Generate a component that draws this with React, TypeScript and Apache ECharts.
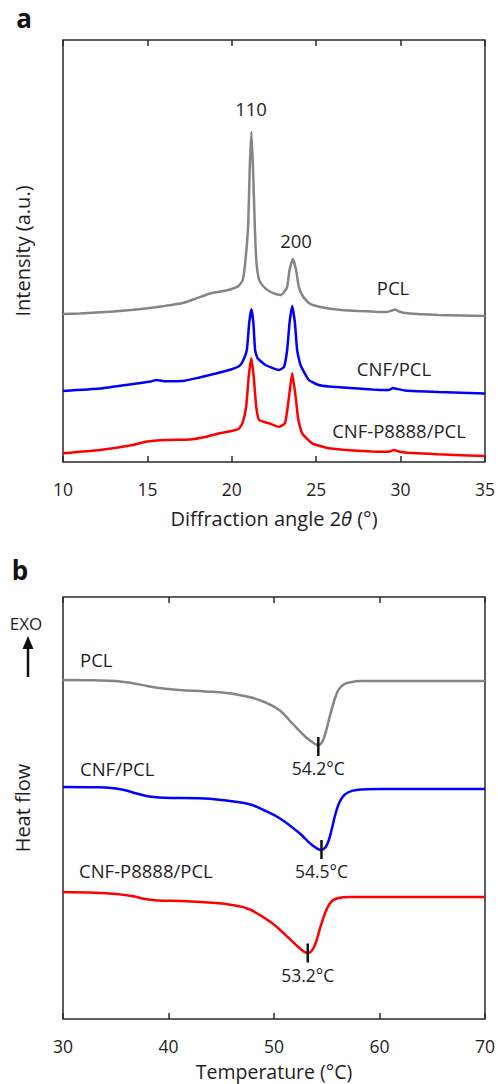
import React, { useEffect, useRef } from "react";
import * as echarts from "echarts";

// ---------- Panel a : XRD (2θ in degrees, intensity in arbitrary units) ----------
const xrdPCL: [number, number][] = [
  [10, 148], [11, 148.5], [12, 149.5], [13, 150.5], [14, 152], [15, 153.7], [16, 156],
  [17.1, 159], [17.8, 163], [18.8, 169], [19.5, 171], [20.0, 173], [20.4, 176],
  [20.65, 182], [20.8, 200], [20.97, 237], [21.06, 292], [21.16, 330], [21.26, 292],
  [21.36, 237], [21.46, 200], [21.62, 182], [21.85, 176], [22.2, 171], [22.6, 168],
  [22.9, 167], [23.1, 170], [23.28, 175], [23.42, 192], [23.62, 203], [23.81, 192],
  [23.97, 175], [24.2, 166], [24.56, 159], [25.0, 156], [25.74, 153.5], [26.5, 152],
  [27.5, 151], [28.5, 150.3], [29.2, 150], [29.5, 151.5], [29.65, 152.5], [29.9, 150.5],
  [30.4, 148.7], [32.23, 147], [35, 146],
];

const xrdCNF: [number, number][] = [
  [10, 71], [12.18, 73.5], [14.15, 78], [15.2, 80.5], [15.52, 82], [16.0, 80.8],
  [17.09, 81], [18.08, 84.5], [19.06, 88.5], [20.04, 93], [20.44, 96], [20.63, 100],
  [20.89, 112], [21.03, 139], [21.16, 153], [21.28, 139], [21.38, 112], [21.52, 104],
  [22.0, 97], [22.8, 92], [23.09, 95], [23.28, 112], [23.42, 139], [23.58, 156],
  [23.74, 139], [23.87, 112], [24.07, 97], [24.56, 82], [25.15, 77], [25.74, 75.5],
  [26.6, 74.5], [28.3, 72.5], [29.3, 72], [29.55, 74], [29.8, 73], [30.26, 71.5],
  [32.23, 70], [35, 68.5],
];

const xrdCNFP8888: [number, number][] = [
  [10, 8.7], [12.18, 12], [14.15, 17], [14.9, 20.3], [16.11, 22], [17.5, 22.5],
  [18.5, 25.3], [19.26, 28.7], [20.04, 31.3], [20.4, 33], [20.63, 38.7], [20.85, 55],
  [21.0, 85], [21.16, 103.7], [21.3, 85], [21.45, 55], [21.62, 42], [22.2, 38.7],
  [22.8, 35.3], [23.15, 38.7], [23.34, 58.7], [23.46, 75], [23.58, 88.7], [23.78, 65.3],
  [23.93, 43.7], [24.17, 28.7], [24.76, 18.7], [25.74, 13.7], [26.6, 12.3], [28.3, 10.5],
  [29.3, 10.3], [29.6, 12], [29.9, 10.5], [30.4, 9.3], [32.23, 7.7], [35, 6],
];

const xrdTicks = { min: 10, max: 35, step: 5 };

// ---------- Panel b : DSC (temperature °C, heat flow arbitrary units) ----------
const dscPCL: [number, number][] = [
  [30, 339], [33, 338.7], [35, 338], [36.5, 336], [38, 333], [39.5, 330.5], [41, 329],
  [43.5, 327.5], [45.5, 326], [46.7, 324], [48.6, 319], [50.5, 309], [51.7, 296],
  [53.0, 282], [53.9, 275], [54.2, 274], [54.5, 276], [54.8, 283], [55.2, 299],
  [55.7, 318], [56.1, 329], [56.6, 334.5], [57.1, 336.5], [58.3, 338], [60, 338], [70, 338],
];

const dscCNF: [number, number][] = [
  [30, 232], [33, 231.7], [34.6, 231], [35.8, 229], [37, 225.5], [38.2, 222.5],
  [39.5, 221.2], [42.9, 220.7], [45, 219], [47.6, 215], [49, 209], [50.5, 201],
  [52.4, 186], [53.6, 174], [54.5, 169], [54.9, 172], [55.2, 179], [55.5, 191],
  [55.8, 204], [56.1, 214], [56.5, 222], [57.0, 226.5], [57.8, 229], [60, 230], [70, 230],
];

const dscCNFP8888: [number, number][] = [
  [30, 127], [33, 126.3], [35, 125], [36.5, 123], [37.8, 120], [39, 118.5], [41.3, 118],
  [44.5, 116], [46, 114], [47.6, 110], [49.8, 96], [51.4, 81], [52.4, 71], [53.2, 66],
  [53.8, 72], [54.4, 92], [55.0, 110], [55.5, 118], [56.1, 121], [57.1, 122], [60, 122], [70, 122],
];

// Peak (melting) temperatures and the heat-flow value at their marker centre
const peakTemps = [54.2, 54.5, 53.2];
const peakMarkerValues = [272.5, 169.5, 66];

const dscTicks = { min: 30, max: 70, step: 10 };

const seriesNames = ["PCL", "CNF/PCL", "CNF-P8888/PCL"];
const seriesColors = ["#858585", "#0000ff", "#ff0000"];

const FONT = '"Open Sans", "Noto Sans", sans-serif';
const AXIS_COLOR = "#2a2a2a";
const TEXT_COLOR = "#1e1e1e";

function makeX(gridIndex: number, t: { min: number; max: number; step: number }, pos: "bottom" | "top", name?: string, gap = 46, fontSize = 20, rich?: any) {
  return {
    type: "value",
    gridIndex,
    position: pos,
    min: t.min,
    max: t.max,
    interval: t.step,
    axisLine: { show: false },
    axisTick: { show: true, inside: true, length: 6, lineStyle: { color: AXIS_COLOR, width: 1.5 } },
    splitLine: { show: false },
    axisLabel: pos === "bottom"
      ? { show: true, fontSize: 17.5, color: TEXT_COLOR, margin: 18, fontFamily: FONT }
      : { show: false },
    name: name ?? "",
    nameLocation: "middle",
    nameGap: gap,
    nameTextStyle: { fontSize, color: TEXT_COLOR, fontFamily: FONT, rich },
  };
}

function makeY(gridIndex: number, name: string) {
  return {
    type: "value",
    gridIndex,
    min: 0,
    max: 422,
    axisLine: { show: false },
    axisTick: { show: false },
    axisLabel: { show: false },
    splitLine: { show: false },
    name,
    nameLocation: "middle",
    nameGap: 31,
    nameTextStyle: { fontSize: 20, color: TEXT_COLOR, fontFamily: FONT },
  };
}

export default function App() {
  const ref = useRef<HTMLDivElement>(null);

  useEffect(() => {
    if (!ref.current) return;
    const chart = echarts.init(ref.current, null, { renderer: "svg" });

    const xrdData = [xrdPCL, xrdCNF, xrdCNFP8888];
    const dscData = [dscPCL, dscCNF, dscCNFP8888];

    const series: any[] = [];
    xrdData.forEach((d, i) => {
      series.push({
        type: "line",
        name: "XRD " + seriesNames[i],
        xAxisIndex: 0,
        yAxisIndex: 0,
        data: d,
        showSymbol: false,
        smooth: 0.15,
        lineStyle: { color: seriesColors[i], width: 2.5 },
        z: 3 - i,
      });
    });
    dscData.forEach((d, i) => {
      series.push({
        type: "line",
        name: "DSC " + seriesNames[i],
        xAxisIndex: 2,
        yAxisIndex: 1,
        data: d,
        showSymbol: false,
        smooth: 0.4,
        lineStyle: { color: seriesColors[i], width: 2.5 },
      });
    });
    series.push({
      type: "scatter",
      name: "Tm",
      xAxisIndex: 2,
      yAxisIndex: 1,
      data: peakTemps.map((t, i) => [t, peakMarkerValues[i]]),
      symbol: "rect",
      symbolSize: [2.5, 19],
      itemStyle: { color: "#111", opacity: 1 },
      label: {
        show: true,
        position: "bottom",
        distance: 3,
        fontSize: 17.5,
        color: TEXT_COLOR,
        opacity: 1,
        fontFamily: FONT,
        formatter: (p: any) => `${p.value[0].toFixed(1)}°C`,
      },
      z: 10,
    });

    const txt = (text: string, x: number, y: number, opts: any = {}) => ({
      type: "text",
      x,
      y,
      style: {
        text,
        fill: TEXT_COLOR,
        fontSize: 18.5,
        fontFamily: FONT,
        align: "center",
        verticalAlign: "middle",
        ...opts,
      },
      z: 20,
    });

    const option: any = {
      animation: false,
      backgroundColor: "#ffffff",
      textStyle: { fontFamily: FONT },
      grid: [
        { left: 63, top: 40, width: 424, height: 422, show: true, borderColor: AXIS_COLOR, borderWidth: 1.5, backgroundColor: "transparent" },
        { left: 63, top: 597, width: 424, height: 422, show: true, borderColor: AXIS_COLOR, borderWidth: 1.5, backgroundColor: "transparent" },
      ],
      xAxis: [
        makeX(0, xrdTicks, "bottom", "Diffraction angle 2{i|θ} (°)", 46, 20, {
          i: { fontSize: 20, fontStyle: "italic", color: TEXT_COLOR, fontFamily: FONT },
        }),
        makeX(0, xrdTicks, "top"),
        makeX(1, dscTicks, "bottom", "Temperature (°C)", 42, 19.5),
        makeX(1, dscTicks, "top"),
      ],
      yAxis: [makeY(0, "Intensity (a.u.)"), makeY(1, "Heat flow")],
      series,
      graphic: [
        txt("a", 24, 18, { fontSize: 26, fontWeight: "bold", fill: "#111" }),
        txt("b", 20, 570, { fontSize: 26, fontWeight: "bold", fill: "#111" }),
        txt("110", 251, 108),
        txt("200", 296, 240),
        txt("PCL", 393, 287),
        txt("CNF/PCL", 394, 368),
        txt("CNF-P8888/PCL", 399, 430),
        txt("PCL", 80, 659, { align: "left" }),
        txt("CNF/PCL", 80, 768, { align: "left" }),
        txt("CNF-P8888/PCL", 79, 870, { align: "left" }),
        txt("EXO", 26, 623, { fontSize: 17 }),
        { type: "line", shape: { x1: 28, y1: 677, x2: 28, y2: 646 }, style: { stroke: "#111", lineWidth: 2.5 }, z: 20 },
        { type: "polygon", shape: { points: [[22.5, 649], [33.5, 649], [28, 636]] }, style: { fill: "#111" }, z: 20 },
      ],
    };

    chart.setOption(option);
    return () => chart.dispose();
  }, []);

  return (
    <div
      ref={ref}
      style={{ position: "absolute", left: 0, top: 0, width: 498, height: 1084, background: "#fff" }}
    />
  );
}
